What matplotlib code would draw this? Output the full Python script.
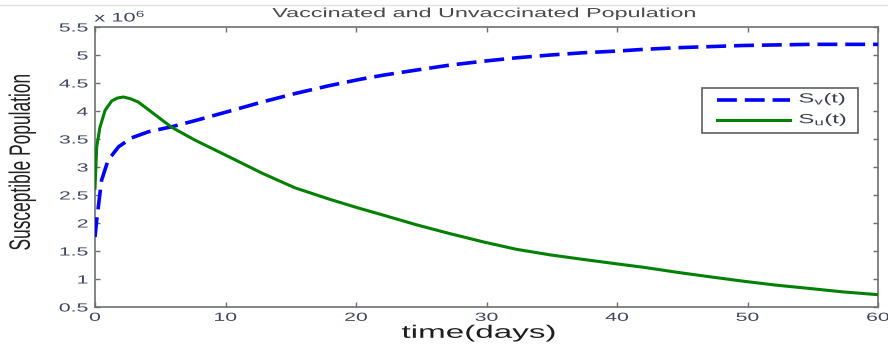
import matplotlib
matplotlib.use("Agg")
import matplotlib.pyplot as plt
from matplotlib.patheffects import AbstractPathEffect
from matplotlib.transforms import Affine2D
from matplotlib.patches import Rectangle
from matplotlib.lines import Line2D

plt.rcParams['font.family'] = ['Liberation Sans', 'DejaVu Sans']
plt.rcParams['mathtext.default'] = 'regular'

# ---- data (values in units of 10^6) ----
t_v = [0, 0.13, 0.5, 1.0, 1.8, 2.8, 4.1, 5.9, 7.7, 10.2, 12.8, 15.3, 17.9, 20.4, 22.1, 24.6,
       27.2, 29.8, 32.3, 34.9, 37.4, 40.0, 42.0, 44.6, 47.1, 49.7, 52.2, 54.8, 57.3, 60]
s_v = [1.75, 2.05, 2.76, 3.12, 3.36, 3.52, 3.63, 3.72, 3.83, 3.99, 4.16, 4.31, 4.45, 4.57, 4.64, 4.73,
       4.82, 4.89, 4.95, 5.00, 5.04, 5.07, 5.10, 5.13, 5.15, 5.17, 5.18, 5.19, 5.19, 5.19]

t_u = [0, 0.13, 0.38, 0.77, 1.28, 1.7, 2.17, 2.7, 3.32, 4.34, 5.87, 7.66, 10.2, 12.8, 15.3, 17.9,
       20.0, 22.1, 24.6, 27.2, 29.8, 32.3, 34.9, 37.4, 40.0, 42.0, 44.6, 47.1, 49.7, 52.2, 54.8, 57.3, 60]
s_u = [2.62, 3.36, 3.71, 4.01, 4.18, 4.23, 4.25, 4.22, 4.16, 3.98, 3.71, 3.48, 3.19, 2.89, 2.63, 2.43,
       2.28, 2.14, 1.97, 1.81, 1.66, 1.53, 1.43, 1.35, 1.27, 1.21, 1.12, 1.04, 0.96, 0.89, 0.83, 0.77, 0.72]

x_ticks = [0, 10, 20, 30, 40, 50, 60]
y_ticks = [0.5, 1, 1.5, 2, 2.5, 3, 3.5, 4, 4.5, 5, 5.5]
y_tick_labels = ['0.5', '1', '1.5', '2', '2.5', '3', '3.5', '4', '4.5', '5', '5.5']

labels = [r'S$_{v}$(t)', r'S$_{u}$(t)']
title = 'Vaccinated and Unvaccinated Population'
xlabel = 'time(days)'
ylabel = 'Susceptible Population'


class HStretch(AbstractPathEffect):
    """Stretch rendered text horizontally (the reference image is widened)."""
    def __init__(self, sx, anchor='center'):
        super().__init__()
        self.sx = sx
        self.anchor = anchor

    def draw_path(self, renderer, gc, tpath, affine, rgbFace=None):
        bb = tpath.get_extents(affine)
        if self.anchor == 'left':
            x0 = bb.x0
        elif self.anchor == 'right':
            x0 = bb.x1
        else:
            x0 = 0.5 * (bb.x0 + bb.x1)
        tr = affine + Affine2D().translate(-x0, 0).scale(self.sx, 1.0).translate(x0, 0)
        renderer.draw_path(gc, tpath, tr, rgbFace)


fig = plt.figure(figsize=(8.88, 3.48), dpi=100)
ax = fig.add_axes([95 / 888, 1 - 307 / 348, 783 / 888, 280 / 348])

ax.plot(t_v, s_v, color='#0000ff', lw=2.6, ls=(0, (5.5, 2.2)), zorder=3)
ax.plot(t_u, s_u, color='#008000', lw=2.2, zorder=3)

ax.set_xlim(0, 60)
ax.set_ylim(0.5, 5.5)
ax.set_xticks(x_ticks)
ax.set_yticks(y_ticks)
ax.set_yticklabels(y_tick_labels)

spine_c = '#707070'
tick_c = '#3e4660'
for s in ax.spines.values():
    s.set_color(spine_c)
    s.set_linewidth(1.2)
ax.tick_params(direction='in', length=3.6, width=1.0, color=spine_c,
               top=True, right=True, labelsize=8.5, labelcolor=tick_c)
ax.tick_params(axis='y', pad=5)
ax.tick_params(axis='x', pad=3.5)

for lab in ax.get_yticklabels():
    lab.set_path_effects([HStretch(1.8, 'right')])
for lab in ax.get_xticklabels():
    lab.set_path_effects([HStretch(1.8, 'center')])

ax.set_title(title, fontsize=9.5, color='#4a4a4a', x=0.497, y=1.046, va='center', pad=0,
             path_effects=[HStretch(1.77)])

ax.set_xlabel(xlabel, fontsize=13, color='#1e1e1e',
              path_effects=[HStretch(1.84)])
ax.xaxis.label.set_va('center')
ax.xaxis.set_label_coords(0.490, -0.094)

ax.set_ylabel(ylabel, fontsize=12.5, color='#222222', path_effects=[HStretch(1.7)])
ax.yaxis.label.set_va('center')
ax.yaxis.set_label_coords(-0.093, 0.518)

ax.text(0.032, 1.036, r'x 10$^{6}$', transform=ax.transAxes, fontsize=9, color=tick_c,
        ha='center', va='center', path_effects=[HStretch(1.75)])

# legend (drawn by hand so the box fits the widened text)
ax.add_patch(Rectangle((0.775, 0.621), 0.200, 0.162, transform=ax.transAxes,
                       facecolor='white', edgecolor='#606060', lw=1.2, zorder=5))
ax.add_line(Line2D([0.794, 0.888], [0.741, 0.741], transform=ax.transAxes,
                   color='#0000ff', lw=2.6, ls=(0, (5.5, 2.2)), zorder=6))
ax.add_line(Line2D([0.794, 0.888], [0.667, 0.667], transform=ax.transAxes,
                   color='#008000', lw=2.2, zorder=6))
for yy, lb in zip([0.741, 0.667], labels):
    ax.text(0.899, yy, lb, transform=ax.transAxes, fontsize=9.5, color='#3a3f50',
            ha='left', va='center', zorder=7, path_effects=[HStretch(1.8, 'left')])

# faint border line at top of the image
fig.add_artist(Line2D([0, 1], [1 - 4.5 / 348] * 2, transform=fig.transFigure,
                      color='#e2e2e2', lw=1.0))

fig.savefig('out.png', dpi=100, facecolor='white')
